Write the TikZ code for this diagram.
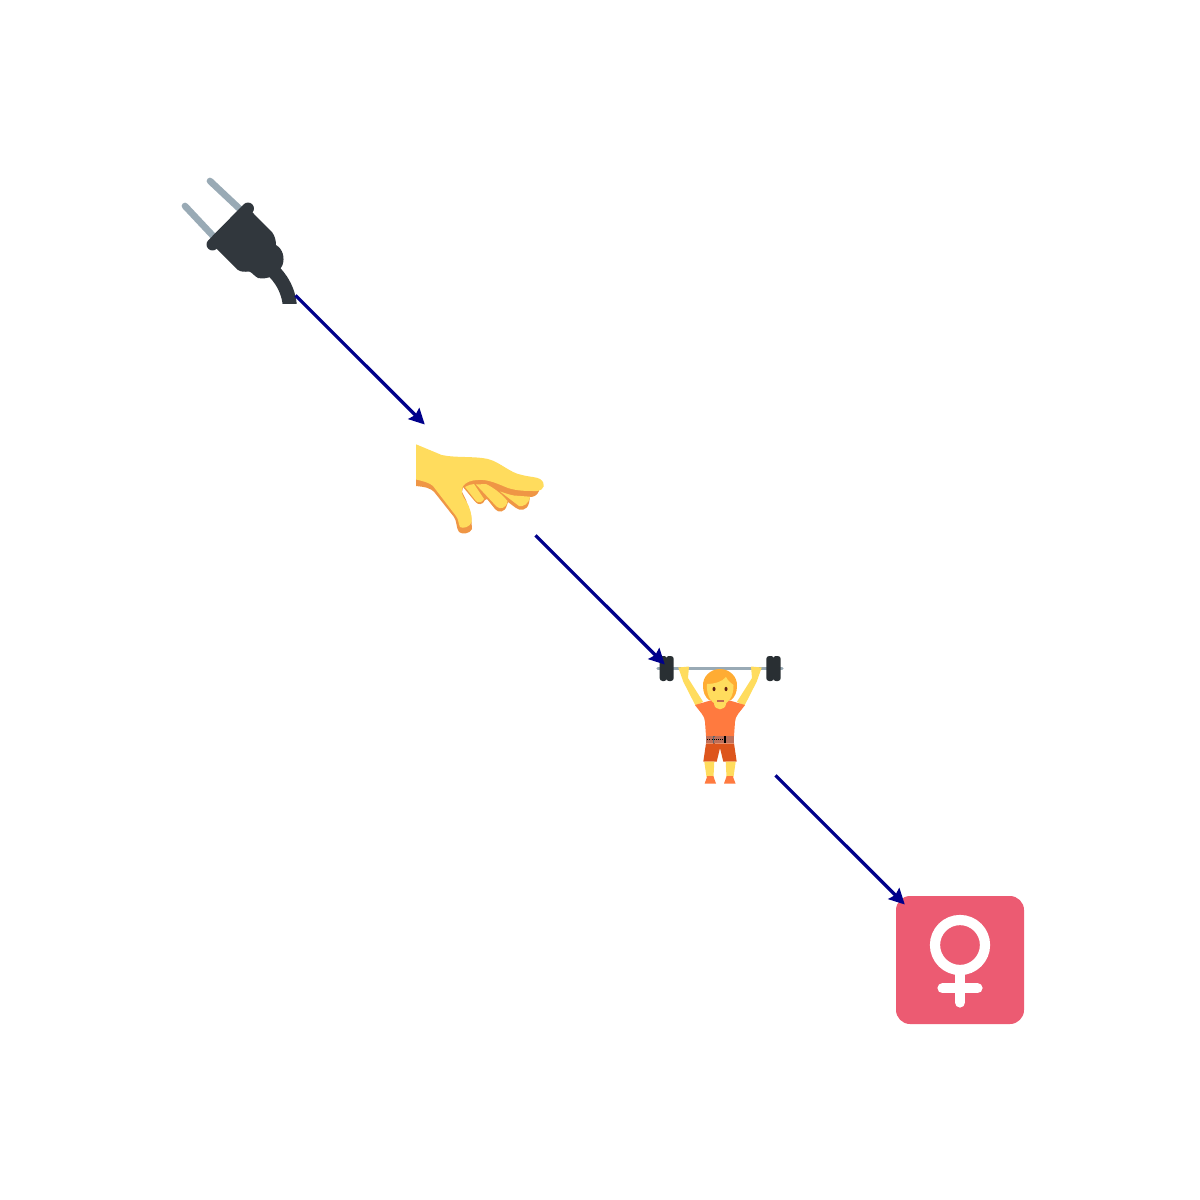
\documentclass[tikz,border=0pt]{standalone}
\usetikzlibrary{arrows.meta}
\definecolor{prong}{HTML}{99AAB5}
\definecolor{plugbody}{HTML}{31373D}
\definecolor{skin}{HTML}{FFDC5D}
\definecolor{skinedge}{HTML}{EF9645}
\definecolor{iron}{HTML}{292F33}
\definecolor{hair}{HTML}{FFAC33}
\definecolor{shirt}{HTML}{FF7A3F}
\definecolor{shorts}{HTML}{DD551C}
\definecolor{beltc}{HTML}{BE6F59}
\definecolor{signc}{HTML}{EC5B72}
\definecolor{arrowc}{HTML}{00008B}
\definecolor{eyec}{HTML}{662113}
\definecolor{mouthc}{HTML}{C1694F}
\tikzset{
  slot/.style={minimum size=111*1.4226pt,inner sep=0pt,outer sep=0pt,shape=rectangle},
  flow/.style={draw=arrowc,line width=4.6pt,-{Stealth[length=22pt,width=22pt,inset=3pt]}},
  prongline/.style={draw=prong,line width=9.5pt,line cap=round},
  weight/.style={fill=iron,rounded corners=4pt},
  signline/.style={draw=white,line width=14.5pt,line cap=round},
}
\begin{document}
\begin{tikzpicture}[x=0.05cm,y=-0.05cm]
\useasboundingbox (0,0) rectangle (1200,1200);
\node[slot] (plug) at (240,240) {};
\node[slot] (hand) at (480,480) {};
\node[slot] (lifter) at (720,720) {};
\node[slot] (sign) at (960,960) {};
% plug
\draw[prongline] (210,181) -- (243,212);
\draw[prongline] (185,206) -- (215,238);
\begin{scope}
\clip (250,250) rectangle (310,303.5);
\draw[plugbody,line width=20pt] (270,268) .. controls (281,277) and (290,292) .. (290,310);
\end{scope}
\fill[plugbody] (211.7,244.3) -- (248.3,207.7) -- (254,214) -- (272,232)
  .. controls (275,236) and (276,241) .. (276,245)
  .. controls (283,249) and (285,258) .. (282.5,265)
  .. controls (278,275) and (268,280) .. (258,278)
  .. controls (254,276) and (252,272) .. (249,271.5)
  .. controls (245,272) and (241,272) .. (238,270) -- (217,249) -- cycle;
\draw[plugbody,line width=17pt,line cap=round] (212.5,244.5) -- (248,208.5);
% hand
\fill[skinedge] (416,479) -- (416,486) .. controls (424,487) and (430,487) .. (435,493) -- (454,517)
  .. controls (457,521) and (456,528) .. (459,532) .. controls (462,534.5) and (470,534) .. (472,529)
  -- (471,515) -- (466,500) -- (462,492) -- (463,487) -- (475,501.5)
  .. controls (478,505.5) and (483,505) .. (485,500) -- (487,499) -- (495,509)
  .. controls (498,513) and (505,513) .. (507,505) -- (508,502) -- (516,508)
  .. controls (520,511) and (527,511) .. (529,503) -- (530,497) .. controls (533,497) and (537,496) .. (539,491) -- (538,480) -- (416,460) -- cycle;
\fill[skin] (416,444.3) -- (441.7,455) .. controls (455,458) and (475,456) .. (488,459)
  .. controls (500,462) and (510,473) .. (522,475)
  .. controls (530,477) and (537,477) .. (540,479)
  .. controls (546,483) and (545,490) .. (537,491)
  .. controls (525,491) and (518,491) .. (508,488)
  .. controls (498,484) and (488,479) .. (478,480)
  .. controls (472,480) and (466,482) .. (463,486)
  .. controls (460,492) and (463,497) .. (466,501)
  .. controls (470,507) and (472,515) .. (471.7,522)
  .. controls (470,527) and (463,529) .. (460,527)
  .. controls (458,523) and (459,520) .. (456,516) -- (433,486)
  .. controls (430,483) and (423,481) .. (416,479.5) -- cycle;
\fill[skin] (465,487) .. controls (468,485) and (471,484.5) .. (474,484) -- (484,499) .. controls (482,503) and (478,503) .. (476,501) -- cycle;
\fill[skin] (476,484.5) -- (486,484) .. controls (492,487) and (500,492) .. (507.5,501) .. controls (507,508) and (500,510) .. (496.7,506.7) -- cycle;
\fill[skin] (500,491.5) .. controls (505,493) and (510,495) .. (514,495.5) -- (530,496.7) .. controls (529,504) and (523,507) .. (519,506) -- cycle;
% lifter
\draw[prong,line width=4.7pt,line cap=round] (658,668.3) -- (782,668.3);
\fill[weight] (659.7,656) rectangle (667,681);
\fill[weight] (666,656) rectangle (673.7,681);
\fill[weight] (766.3,656) rectangle (774,681);
\fill[weight] (773,656) rectangle (780.7,681);
\fill[skin] (678.3,667.5) -- (689,666.5) -- (688,678) -- (703,701.7) -- (695.7,706) -- (683.3,681.7) -- cycle;
\fill[skin] (761.7,667.5) -- (751,666.5) -- (752,678) -- (737,701.7) -- (744.3,706) -- (756.7,681.7) -- cycle;
\fill[hair] (720,669) .. controls (730,669) and (737.5,677) .. (737,686) .. controls (737,692) and (735,697) .. (731,700) -- (709,700) .. controls (705,697) and (703,692) .. (703,686) .. controls (702.5,677) and (710,669) .. (720,669) -- cycle;
\fill[shirt] (695,705) -- (712,700) -- (728,700) -- (745,705) .. controls (740,712) and (735,716) .. (735,722) -- (734,736) -- (706,736) -- (705,722) .. controls (705,716) and (700,712) .. (695,705) -- cycle;
\fill[skin] (714,698) -- (726,698) -- (726,704) .. controls (725,711) and (715,711) .. (714,704) -- cycle;
\fill[skin] (707,684) .. controls (714,684) and (722,682) .. (726,677) .. controls (728,681) and (731,683) .. (733.5,685) .. controls (734,696) and (728,705) .. (720,705) .. controls (712,705) and (706,696) .. (707,684) -- cycle;
\fill[eyec] (714,689) ellipse (1.5 and 2.2);
\fill[eyec] (726,689) ellipse (1.5 and 2.2);
\fill[mouthc] (716.5,699.5) rectangle (723.5,701.5);
\fill[beltc] (706,736) rectangle (734,743.3);
\draw[black,line width=1pt,dotted] (707.3,739.3) -- (724,739.3);
\draw[prong!60!black,line width=1.2pt] (714.5,736) -- (713,736) -- (713,743.3) -- (714.5,743.3);
\fill[black] (724,736) rectangle (726,743.3);
\fill[shorts] (706,743.3) -- (734,743.3) -- (736.7,761.7) -- (723.3,761.7) -- (720,748) -- (716.7,761.7) -- (703.3,761.7) -- cycle;
\fill[skin] (704.3,761.7) -- (714.3,761.7) -- (713.5,777) -- (706.5,777) -- cycle;
\fill[skin] (725.7,761.7) -- (735.7,761.7) -- (733.5,777) -- (726.5,777) -- cycle;
\fill[shirt] (704.7,783.5) -- (707.3,776) -- (713.3,776) -- (716,783.5) -- cycle;
\fill[shirt] (724,783.5) -- (726.7,776) -- (732.7,776) -- (735.5,783.5) -- cycle;
% sign
\fill[signc,rounded corners=20pt] (896,896) rectangle (1024,1024);
\draw[white,line width=14.5pt] (960,945) circle (25);
\draw[signline] (960,972) -- (960,1002.5);
\draw[signline] (942.5,988.3) -- (977.5,988.3);
% connectors
\draw[flow] (plug) -- (hand);
\draw[flow] (hand) -- (lifter);
\draw[flow] (lifter) -- (sign);
\end{tikzpicture}
\end{document}
